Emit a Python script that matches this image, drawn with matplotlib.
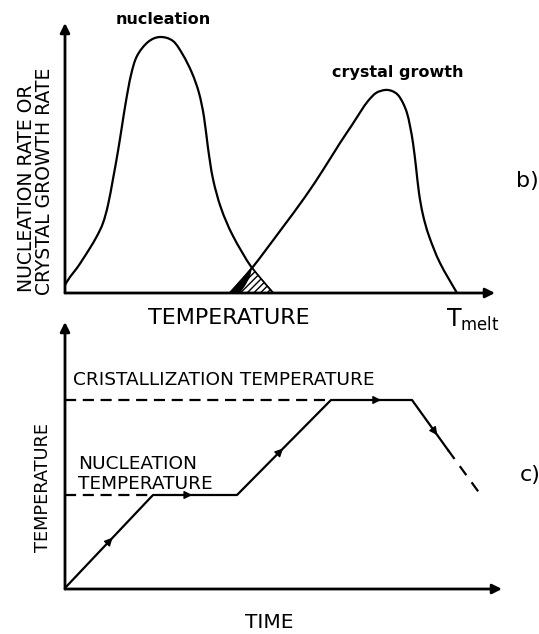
import matplotlib
matplotlib.use("Agg")
import matplotlib.pyplot as plt
from matplotlib.path import Path
from matplotlib.patches import PathPatch
import numpy as np

W, H = 539, 634

# ---- data ----
# top panel: temperature (a.u.) vs rate (a.u.)
nuc_T = [0, 5, 12, 18, 25, 32, 38, 43, 48, 53, 57, 61, 66, 72, 83, 95, 108, 118, 127, 134, 139, 143, 148, 156, 168, 187, 208]
nuc_R = [8, 16, 25, 34, 45, 57, 70, 88, 114, 142, 167, 192, 218, 237, 251, 256, 252, 238, 220, 200, 176, 145, 114, 85, 57, 25, 0]

cry_T = [165, 187, 215, 240, 258, 275, 287, 296, 303, 311, 320, 327, 333, 338, 342, 345, 348, 351, 354, 358, 364, 375, 392]
cry_R = [0, 25, 62, 96, 123, 150, 168, 182, 192, 200, 203, 202, 198, 190, 180, 167, 150, 126, 100, 78, 57, 30, 0]

# bottom panel: time vs temperature profile
path_t = [0, 88, 172, 266, 347, 383]
path_T = [1, 94, 94, 189, 189, 139]
tail_t = [383, 418]
tail_T = [139, 91]
nuc_level = 94
cry_level = 189
arrow_pos = [0.51, 0.42, 0.46, 0.57, 0.64]  # fraction along each solid segment

plt.rcParams['font.family'] = ['DejaVu Sans']
fig = plt.figure(figsize=(W/100, H/100), dpi=100)

def fx(x): return x / W
def fy(y): return 1 - y / H

lw = 1.6
ax_lw = 2.0

def smooth_curve(ax, xs, ys, **kw):
    """Draw a smooth curve passing through the read points (Catmull-Rom as Bezier)."""
    p = np.column_stack([xs, ys]).astype(float)
    n = len(p)
    verts = [p[0]]
    codes = [Path.MOVETO]
    for i in range(n - 1):
        p0 = p[i - 1] if i > 0 else p[i]
        p1, p2 = p[i], p[i + 1]
        p3 = p[i + 2] if i + 2 < n else p[i + 1]
        c1 = p1 + (p2 - p0) / 6.0
        c2 = p2 - (p3 - p1) / 6.0
        verts += [c1, c2, p2]
        codes += [Path.CURVE4] * 3
    ax.add_patch(PathPatch(Path(verts, codes), fill=False, **kw))

def axis_arrows(a):
    a.annotate('', xy=(1, 0), xytext=(0, 0), xycoords='axes fraction',
               arrowprops=dict(arrowstyle='-|>', lw=ax_lw, color='black',
                               mutation_scale=14, shrinkA=0, shrinkB=0))
    a.annotate('', xy=(0, 1), xytext=(0, 0), xycoords='axes fraction',
               arrowprops=dict(arrowstyle='-|>', lw=ax_lw, color='black',
                               mutation_scale=14, shrinkA=0, shrinkB=0))

# ---- top axes ----
ox1, oy1, xt1, yt1 = 65, 293, 495, 23
ax1 = fig.add_axes([fx(ox1), fy(oy1), (xt1 - ox1) / W, (oy1 - yt1) / H])
ax1.set_xlim(0, xt1 - ox1)
ax1.set_ylim(0, oy1 - yt1)
ax1.axis('off')
smooth_curve(ax1, nuc_T, nuc_R, edgecolor='black', lw=lw, capstyle='round')
smooth_curve(ax1, cry_T, cry_R, edgecolor='black', lw=lw, capstyle='round')

# hatched overlap region (under both curves)
cross_T = 187
xs = [t for t in cry_T if t <= cross_T] + [t for t in nuc_T if t > cross_T]
ys = [r for t, r in zip(cry_T, cry_R) if t <= cross_T] + [r for t, r in zip(nuc_T, nuc_R) if t > cross_T]
ax1.fill(xs, ys, facecolor='white', edgecolor='black', hatch='/////', lw=1.2)
ax1.fill([165, 187, 185, 180, 175], [0, 25, 16, 7, 0], color='black', lw=0)
axis_arrows(ax1)

# ---- bottom axes ----
ox2, oy2, xt2, yt2 = 65, 589, 502, 322
ax2 = fig.add_axes([fx(ox2), fy(oy2), (xt2 - ox2) / W, (oy2 - yt2) / H])
ax2.set_xlim(0, xt2 - ox2)
ax2.set_ylim(0, oy2 - yt2)
ax2.axis('off')
ax2.plot(path_t, path_T, color='black', lw=lw)
ax2.plot(tail_t, tail_T, color='black', lw=lw, ls=(0, (5, 4)))
ax2.plot([0, path_t[1]], [nuc_level, nuc_level], color='black', lw=lw, ls=(0, (5, 3)))
ax2.plot([0, path_t[3]], [cry_level, cry_level], color='black', lw=lw, ls=(0, (5, 3)))

for i, f in enumerate(arrow_pos):
    x0, y0 = path_t[i], path_T[i]
    x1, y1 = path_t[i + 1], path_T[i + 1]
    xm, ym = x0 + f * (x1 - x0), y0 + f * (y1 - y0)
    dx, dy = (x1 - x0), (y1 - y0)
    n = np.hypot(dx, dy)
    ax2.annotate('', xy=(xm + 4 * dx / n, ym + 4 * dy / n), xytext=(xm - 4 * dx / n, ym - 4 * dy / n),
                 arrowprops=dict(arrowstyle='-|>', lw=1.0, color='black',
                                 mutation_scale=12, shrinkA=0, shrinkB=0))
axis_arrows(ax2)

# ---- texts ----
fig.text(fx(163), fy(20), 'nucleation', ha='center', va='center', fontsize=11.5, fontweight='bold')
fig.text(fx(398), fy(72), 'crystal growth', ha='center', va='center', fontsize=11.5, fontweight='bold')
fig.text(fx(27), fy(188), 'NUCLEATION RATE OR', ha='center', va='center', rotation=90, fontsize=13.5)
fig.text(fx(45), fy(181), 'CRYSTAL GROWTH RATE', ha='center', va='center', rotation=90, fontsize=13.5)
fig.text(fx(527), fy(181), 'b)', ha='center', va='center', fontsize=16)
fig.text(fx(229), fy(318), 'TEMPERATURE', ha='center', va='center', fontsize=16)
fig.text(fx(446), fy(320), r'$\mathregular{T_{melt}}$', ha='left', va='center', fontsize=17)
fig.text(fx(73), fy(380), 'CRISTALLIZATION TEMPERATURE', ha='left', va='center', fontsize=13.3)
fig.text(fx(78), fy(474), 'NUCLEATION\nTEMPERATURE', ha='left', va='center', fontsize=13.3, linespacing=1.1)
fig.text(fx(43), fy(488), 'TEMPERATURE', ha='center', va='center', rotation=90, fontsize=12.8)
fig.text(fx(530), fy(475), 'c)', ha='center', va='center', fontsize=16)
fig.text(fx(269), fy(623), 'TIME', ha='center', va='center', fontsize=14.5)

fig.savefig('out.png', dpi=100)
